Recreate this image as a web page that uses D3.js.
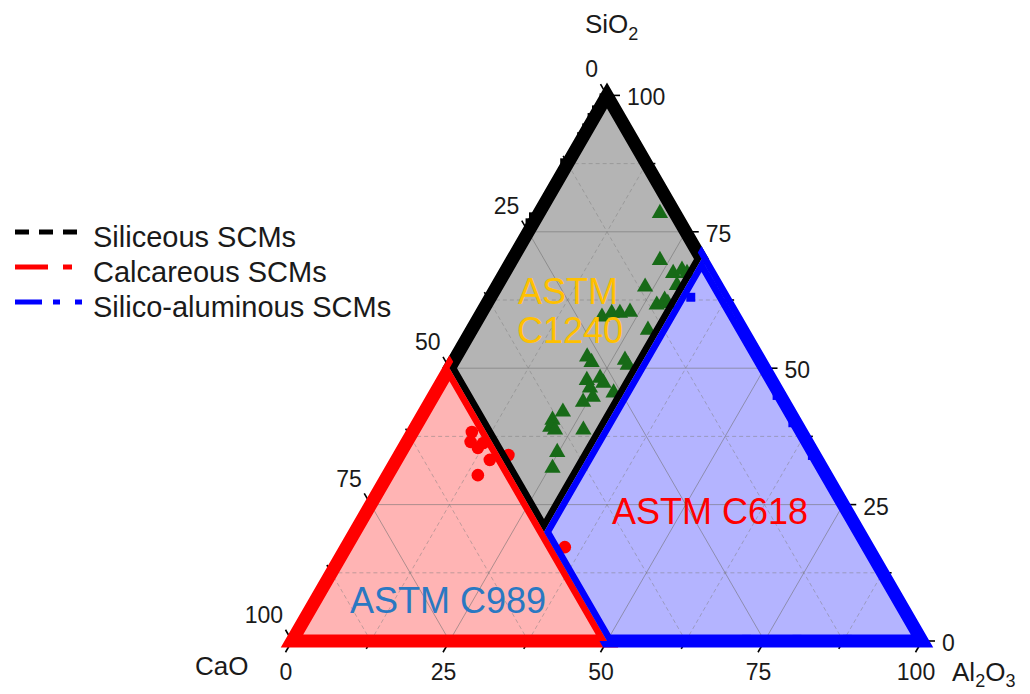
<!DOCTYPE html>
<html>
<head>
<meta charset="utf-8">
<script src="https://cdn.jsdelivr.net/npm/d3@7/dist/d3.min.js"></script>
<style>
  body { margin: 0; background: #fff; }
  svg text { font-family: Arial, "Liberation Sans", sans-serif; fill: #1a1a1a; }
</style>
</head>
<body>
<svg id="chart" width="1030" height="694"></svg>
<script>
// all compositions are [SiO2, Al2O3, CaO] in %
var majorTicks = [0, 25, 50, 75, 100];
var minorTicks = [12.5, 37.5, 62.5, 87.5];

var c1240Region = [[100, 0, 0], [50, 0, 50], [20, 30, 50], [70, 30, 0]];
var c989Region = [[0, 0, 100], [50, 0, 50], [0, 50, 50]];
var c618Region = [[20, 30, 50], [0, 50, 50], [0, 100, 0], [70, 30, 0]];

var siliceousPoints = [
  [99.5, 0.3, 0.2], [97.3, 0.2, 2.5], [95.9, 0.2, 3.9], [94.0, 0.3, 5.7],
  [92.4, 0.3, 7.3], [87.6, 0.0, 12.4], [77.7, 0.0, 22.3], [76.6, 0.0, 23.4]
];
var calcareousPoints = [
  [38.3, 9.4, 52.3], [36.5, 10.1, 53.4], [35.4, 11.8, 52.8], [36.3, 12.2, 51.5],
  [33.2, 14.8, 52.0], [30.4, 14.3, 55.3], [34.1, 17.3, 48.6], [17.2, 34.7, 48.1]
];
var silicoAluminousPoints = [
  [63.0, 31.8, 5.2], [53.7, 46.3, 0.0], [45.0, 54.5, 0.5], [40.0, 59.5, 0.5],
  [34.0, 65.6, 0.4], [0.3, 72.0, 27.7], [0.3, 80.0, 19.7], [0.3, 88.0, 11.7]
];
var otherPoints = [
  [78.4, 19.2, 2.4], [69.8, 23.5, 6.7], [67.4, 26.8, 5.8], [68.0, 27.9, 4.1],
  [67.4, 29.0, 3.6], [65.2, 28.5, 6.3], [64.9, 23.6, 11.5], [61.6, 27.1, 11.3],
  [62.5, 27.9, 9.6], [61.9, 28.7, 9.4], [59.4, 19.5, 21.1], [60.1, 20.7, 19.2],
  [60.1, 22.0, 17.9], [60.3, 23.5, 16.2], [57.0, 28.0, 15.0], [52.1, 20.8, 27.1],
  [51.1, 22.0, 26.9], [51.5, 27.1, 21.4], [50.6, 28.0, 21.4], [47.8, 22.9, 29.3],
  [48.2, 24.8, 27.0], [47.3, 25.8, 26.9], [46.4, 24.1, 29.5], [44.7, 25.4, 29.9],
  [43.8, 24.3, 31.9], [45.5, 28.3, 26.2], [42.0, 22.0, 36.0], [40.5, 21.1, 38.4],
  [39.2, 21.4, 39.4], [38.7, 22.4, 38.9], [38.7, 26.9, 34.4], [34.6, 24.8, 40.6],
  [31.7, 25.5, 42.8]
];

var legendNames = ['Siliceous SCMs', 'Calcareous SCMs', 'Silico-aluminous SCMs'];
var legendColors = ['#000000', '#ff0000', '#0000ff'];
var legendDashes = ['14,10', '33,15,9,30', '27,11,7,15,7,30'];

var svg = d3.select('#chart');
var side = 630;
var xScale = d3.scaleLinear().domain([0, 100]).range([292, 292 + side]);
var yScale = d3.scaleLinear().domain([0, 100]).range([641, 641 - side * Math.sqrt(3) / 2]);

function pt(d) {
  // d = [SiO2, Al2O3, CaO]
  return [xScale(d[1] + d[0] / 2), yScale(d[0])];
}

var line = d3.line();
var corners = [[100, 0, 0], [0, 0, 100], [0, 100, 0]];

// region fills
var regions = [
  {pts: c1240Region, fill: '#b4b4b4', stroke: '#000000'},
  {pts: c989Region, fill: '#ffb4b4', stroke: '#ff0000'},
  {pts: c618Region, fill: '#b4b4ff', stroke: '#0000ff'}
];

svg.selectAll('.fill').data(regions).enter().append('path')
  .attr('class', 'fill')
  .attr('d', function(r) { return line(r.pts.map(pt)) + 'Z'; })
  .attr('fill', function(r) { return r.fill; });

// grid
function gridLines(v) {
  return [
    [[v, 0, 100 - v], [v, 100 - v, 0]],
    [[0, v, 100 - v], [100 - v, v, 0]],
    [[0, 100 - v, v], [100 - v, 0, v]]
  ];
}
var grid = svg.append('g');
[25, 50, 75].forEach(function(v) {
  gridLines(v).forEach(function(seg) {
    grid.append('path').attr('d', line(seg.map(pt)))
      .attr('stroke', '#6e6e6e').attr('stroke-width', 0.8).attr('stroke-opacity', 0.7).attr('fill', 'none');
  });
});
minorTicks.forEach(function(v) {
  gridLines(v).forEach(function(seg) {
    grid.append('path').attr('d', line(seg.map(pt)))
      .attr('stroke', '#7c7c7c').attr('stroke-width', 0.8).attr('stroke-opacity', 0.6)
      .attr('stroke-dasharray', '4,3').attr('fill', 'none');
  });
});

// ticks
var ticks = svg.append('g').attr('stroke', '#000').attr('stroke-width', 1.6);
var s3 = Math.sqrt(3) / 2;
function drawTick(p, dir, len) {
  ticks.append('line').attr('x1', p[0]).attr('y1', p[1])
    .attr('x2', p[0] + dir[0] * len).attr('y2', p[1] + dir[1] * len);
}
majorTicks.concat(minorTicks).forEach(function(v) {
  var len = majorTicks.indexOf(v) >= 0 ? 13 : 9;
  drawTick(pt([0, v, 100 - v]), [-0.5, s3], len);      // Al2O3 bottom
  drawTick(pt([v, 100 - v, 0]), [1, 0], len);         // SiO2 right
  drawTick(pt([100 - v, 0, v]), [-0.5, -s3], len);     // CaO left
});

// tick labels
var labels = svg.append('g').style('font-size', '23px');
majorTicks.forEach(function(v) {
  var b = pt([0, v, 100 - v]);
  labels.append('text').attr('x', b[0] - 6).attr('y', b[1] + 39)
    .attr('text-anchor', 'middle').text(v);
  var r = pt([v, 100 - v, 0]);
  labels.append('text').attr('x', r[0] + 20).attr('y', r[1] + 10).text(v);
  var l = pt([100 - v, 0, v]);
  labels.append('text').attr('x', l[0] - 9).attr('y', l[1] - 18)
    .attr('text-anchor', 'end').text(v);
});

// markers below the outlines
var marks = svg.append('g');
marks.selectAll('.tri').data(otherPoints).enter().append('path')
  .attr('d', d3.symbol(d3.symbolTriangle, 115))
  .attr('transform', function(d) { var p = pt(d); return 'translate(' + p[0] + ',' + p[1] + ')'; })
  .attr('fill', '#176a17');
marks.selectAll('.dot').data(calcareousPoints).enter().append('circle')
  .attr('cx', function(d) { return pt(d)[0]; })
  .attr('cy', function(d) { return pt(d)[1]; })
  .attr('r', 6.3).attr('fill', '#ff0000');
marks.selectAll('.blu').data(silicoAluminousPoints).enter().append('path')
  .attr('d', d3.symbol(d3.symbolSquare, 80))
  .attr('transform', function(d) { var p = pt(d); return 'translate(' + p[0] + ',' + p[1] + ')'; })
  .attr('fill', '#0000ff');

// outlines: full width on the outer edge, inner half on shared edges
var outer = 'M0,0H1030V694H0Z' + line(corners.map(pt)) + 'Z';
var defs = svg.append('defs');
regions.forEach(function(r, i) {
  defs.append('clipPath').attr('id', 'clip' + i)
    .append('path').attr('clip-rule', 'evenodd')
    .attr('d', outer + line(r.pts.map(pt)) + 'Z');
  svg.append('path')
    .attr('d', line(r.pts.map(pt)) + 'Z')
    .attr('fill', 'none')
    .attr('stroke', r.stroke)
    .attr('stroke-width', 13)
    .attr('stroke-linejoin', 'miter')
    .attr('clip-path', 'url(#clip' + i + ')');
});

svg.selectAll('.sq').data(siliceousPoints).enter().append('path')
  .attr('d', d3.symbol(d3.symbolSquare, 90))
  .attr('transform', function(d) { var p = pt(d); return 'translate(' + (p[0] - 3) + ',' + p[1] + ')'; })
  .attr('fill', '#000');

// region names
var names = svg.append('g').style('font-size', '36px').attr('text-anchor', 'middle');
names.append('text').attr('x', 568).attr('y', 304).style('fill', '#ffc000').text('ASTM');
names.append('text').attr('x', 570).attr('y', 343).style('fill', '#ffc000').text('C1240');
names.append('text').attr('x', 710).attr('y', 524).style('fill', '#ff0000').text('ASTM C618');
names.append('text').attr('x', 448).attr('y', 613).style('fill', '#2a78c2').text('ASTM C989');

// axis titles
var titles = svg.append('g').style('font-size', '26px');
var t1 = titles.append('text').attr('x', 585).attr('y', 33);
t1.append('tspan').text('SiO');
t1.append('tspan').attr('dy', 7).style('font-size', '18px').text('2');
titles.append('text').attr('x', 195).attr('y', 675).text('CaO');
var t3 = titles.append('text').attr('x', 952).attr('y', 681);
t3.append('tspan').text('Al');
t3.append('tspan').attr('dy', 6).style('font-size', '18px').text('2');
t3.append('tspan').attr('dy', -6).text('O');
t3.append('tspan').attr('dy', 6).style('font-size', '18px').text('3');

// legend
var legend = svg.append('g');
legendNames.forEach(function(name, i) {
  var y = 232 + i * 35;
  legend.append('line').attr('x1', 15).attr('x2', 83).attr('y1', y).attr('y2', y)
    .attr('stroke', legendColors[i]).attr('stroke-width', 5)
    .attr('stroke-dasharray', legendDashes[i]);
  legend.append('text').attr('x', 93).attr('y', y + 15)
    .style('font-size', '29px').text(name);
});
</script>
</body>
</html>
